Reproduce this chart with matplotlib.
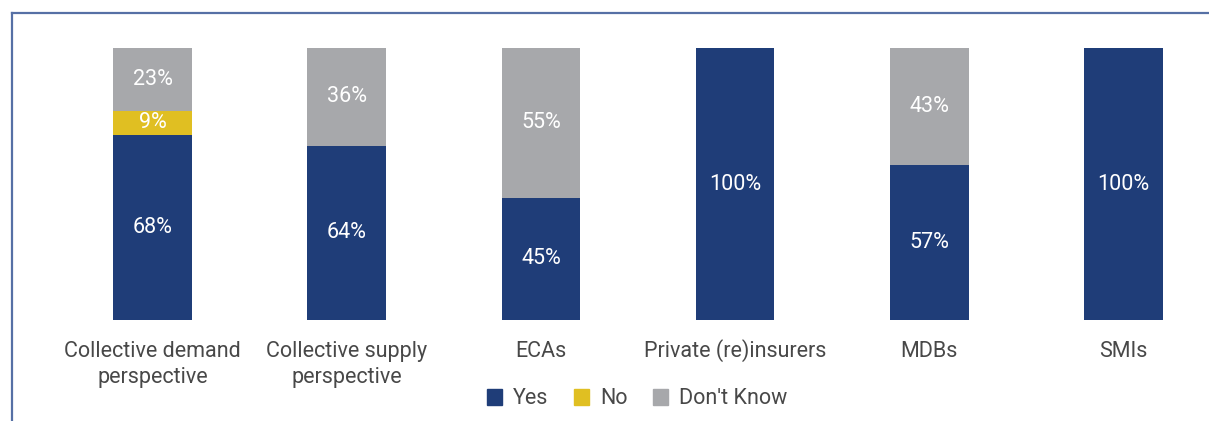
import matplotlib.pyplot as plt
from matplotlib.lines import Line2D
from matplotlib.patches import Patch
import matplotlib.transforms as mtransforms

plt.rcParams['font.family'] = ['Roboto', 'DejaVu Sans']

# survey shares per respondent group
categories = ['Collective demand\nperspective', 'Collective supply\nperspective', 'ECAs',
              'Private (re)insurers', 'MDBs', 'SMIs']
yes = [68, 64, 45, 100, 57, 100]
no = [9, 0, 0, 0, 0, 0]
dont_know = [23, 36, 55, 0, 43, 0]
series_names = ['Yes', 'No', "Don't Know"]

blue = '#1f3d78'
yellow = '#e0bf22'
grey = '#a7a8ab'
text_col = '#484848'

fig = plt.figure(figsize=(12.09, 4.21), dpi=100)
ax = fig.add_axes([0, (421 - 320) / 421, 1, 272 / 421])

x = list(range(len(categories)))
w = 0.405
bottoms = [0] * len(x)
for vals, col in zip([yes, no, dont_know], [blue, yellow, grey]):
    ax.bar(x, vals, w, bottom=bottoms, color=col, linewidth=0)
    for i, v in enumerate(vals):
        if v > 0:
            ax.text(i, bottoms[i] + v / 2, f'{v}%', ha='center', va='center',
                    color='white', fontsize=15.5)
    bottoms = [b + v for b, v in zip(bottoms, vals)]

ax.set_xlim(-152.5 / 194.2, (1209 - 152.5) / 194.2)
ax.set_ylim(0, 100)
ax.axis('off')

# category names under each bar, one baseline per line
trans = mtransforms.blended_transform_factory(ax.transData, fig.transFigure)
baselines = [357, 383]
for i, c in enumerate(categories):
    for line, yb in zip(c.split('\n'), baselines):
        ax.text(i, (421 - yb) / 421, line, transform=trans, ha='center', va='baseline',
                fontsize=15.5, color=text_col)

handles = [Patch(color=c) for c in [blue, yellow, grey]]
fig.legend(handles, series_names, loc='center', bbox_to_anchor=(0.527, (421 - 399) / 421),
           ncol=3, frameon=False, handlelength=0.7, handleheight=0.7,
           handletextpad=0.5, columnspacing=1.2, labelcolor=text_col,
           prop={'size': 15.5})

# frame lines along the top and left edges
border = '#5670a5'
fig.add_artist(Line2D([11.5 / 1209, 1], [(421 - 13) / 421] * 2, color=border, lw=1.6))
fig.add_artist(Line2D([11.5 / 1209] * 2, [0, (421 - 13) / 421], color=border, lw=1.6))

fig.savefig('out.png', dpi=100)
